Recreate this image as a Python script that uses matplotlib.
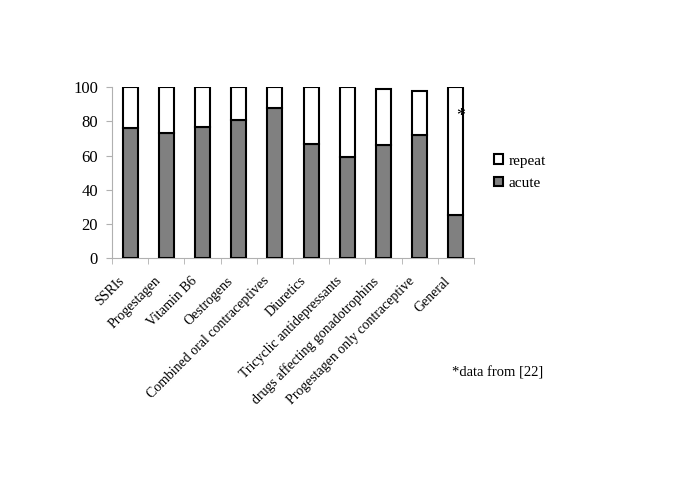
import matplotlib
matplotlib.use("Agg")
import matplotlib.pyplot as plt
import matplotlib.transforms as mtransforms
import numpy as np

categories = ["SSRIs", "Progestagen", "Vitamin B6", "Oestrogens",
              "Combined oral contraceptives", "Diuretics",
              "Tricyclic antidepressants", "drugs affecting gonadotrophins",
              "Progestagen only contraceptive", "General"]
acute = [76, 73, 77, 81, 88, 67, 59, 66, 72, 25]
repeat = [24, 27, 23, 19, 12, 33, 41, 33, 26, 75]
yticks = [0, 20, 40, 60, 80, 100]

plt.rcParams['font.family'] = ['Liberation Serif', 'DejaVu Serif']

fig = plt.figure(figsize=(6.85, 4.83), dpi=100)
ax = fig.add_axes([0.1635, 0.4665, 0.5285, 0.3525])

x = np.arange(len(categories))
w = 0.41
ax.bar(x, acute, w, color='#808080', edgecolor='black', linewidth=1.5, label='acute', zorder=3)
ax.bar(x, repeat, w, bottom=acute, color='white', edgecolor='black', linewidth=1.5, label='repeat', zorder=3)

ax.set_xlim(-0.5, len(categories) - 0.5)
ax.set_ylim(0, 100)
ax.set_yticks(yticks)
ax.set_yticklabels([str(v) for v in yticks], fontsize=12)
ax.set_xticks(x)
ax.set_xticklabels(categories, rotation=45, ha='right', rotation_mode='anchor', fontsize=10)
ax.tick_params(axis='x', length=0, pad=12)
offset = mtransforms.ScaledTranslation(-12 / 100, 0, fig.dpi_scale_trans)
for lbl in ax.get_xticklabels():
    lbl.set_transform(lbl.get_transform() + offset)
ax.set_xticks(np.arange(-0.5, len(categories), 1.0), minor=True)
ax.tick_params(axis='x', which='minor', length=4, color='#b0b0b0', direction='out')
ax.tick_params(axis='y', length=4, color='#b0b0b0', direction='out', pad=6)

for s in ['top', 'right']:
    ax.spines[s].set_visible(False)
for s in ['left', 'bottom']:
    ax.spines[s].set_color('#b0b0b0')
    ax.spines[s].set_linewidth(0.8)

ax.text(x[-1] + 0.12, 83, '*', fontsize=13, ha='center', va='center', zorder=4)

handles, labels = ax.get_legend_handles_labels()
leg = fig.legend(handles[::-1], labels[::-1], loc='upper left', bbox_to_anchor=(0.712, 0.693),
                 frameon=False, fontsize=11, handlelength=0.6, handleheight=0.6,
                 handletextpad=0.35, labelspacing=0.6, borderaxespad=0)

fig.text(0.66, 0.228, '*data from [22]', fontsize=10.5, ha='left', va='center')

fig.savefig('out.png', dpi=100)
